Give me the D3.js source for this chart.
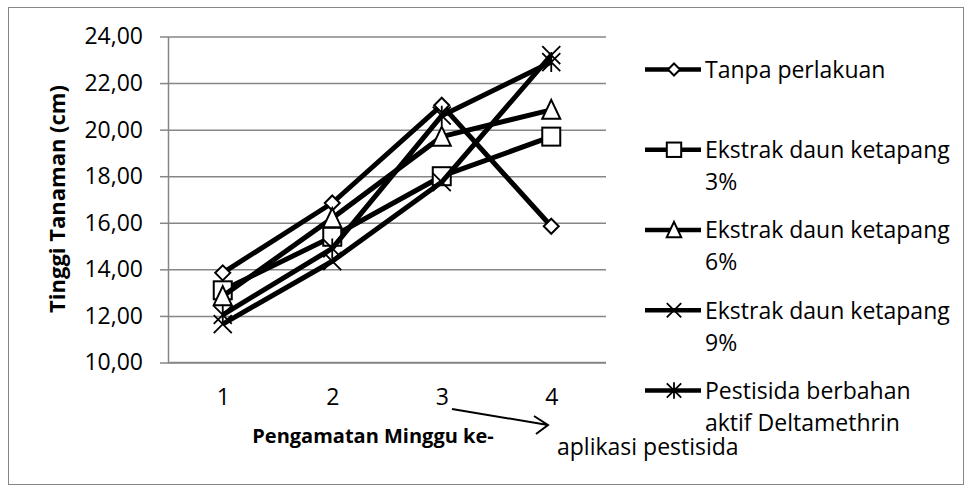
<!DOCTYPE html>
<html>
<head>
<meta charset="utf-8">
<script src="https://cdn.jsdelivr.net/npm/d3@7"></script>
<style>
  html, body { margin: 0; padding: 0; background: #fff; }
  svg { display: block; }
  text { font-family: "Open Sans", sans-serif; fill: #000; }
</style>
</head>
<body>
<svg id="chart" width="971" height="486"></svg>
<script>
// ---- data ----
const categories = ["1", "2", "3", "4"];
const yTicks = [10, 12, 14, 16, 18, 20, 22, 24];
const seriesNames = [
  ["Tanpa perlakuan"],
  ["Ekstrak daun ketapang", "3%"],
  ["Ekstrak daun ketapang", "6%"],
  ["Ekstrak daun ketapang", "9%"],
  ["Pestisida berbahan", "aktif Deltamethrin"]
];
const tanpaPerlakuan = [13.85, 16.85, 21.05, 15.85];
const ekstrak3 = [13.1, 15.4, 18.0, 19.7];
const ekstrak6 = [12.85, 16.2, 19.7, 20.85];
const ekstrak9 = [11.65, 14.35, 17.75, 23.2];
const pestisida = [12.05, 14.9, 20.6, 22.9];
const markerTypes = ["diamond", "square", "triangle", "x", "star"];
const xTitle = "Pengamatan Minggu ke-";
const yTitle = "Tinggi Tanaman (cm)";
const note = "aplikasi pestisida";

const allSeries = [tanpaPerlakuan, ekstrak3, ekstrak6, ekstrak9, pestisida];

// ---- layout ----
const svg = d3.select("#chart");
const gray = "#868686";
const plot = { left: 168, right: 606, top: 36.5, bottom: 362.5 };

svg.append("rect").attr("x", 0).attr("y", 0).attr("width", 971).attr("height", 486).attr("fill", "#fff");
svg.append("rect").attr("x", 8.5).attr("y", 7.5).attr("width", 955).attr("height", 477)
  .attr("fill", "none").attr("stroke", gray).attr("stroke-width", 1);

const x = d3.scalePoint().domain(categories).range([plot.left, plot.right]).padding(0.5);
const y = d3.scaleLinear().domain([10, 24]).range([plot.bottom, plot.top]);

// gridlines
svg.append("g")
  .attr("transform", `translate(${plot.left},0)`)
  .call(d3.axisLeft(y).tickValues(yTicks).tickSize(-(plot.right - plot.left)).tickFormat(""))
  .call(g => g.select(".domain").remove())
  .call(g => g.selectAll("line").attr("stroke", gray).attr("stroke-width", 1.5));

// y axis
svg.append("g")
  .attr("transform", `translate(${plot.left},0)`)
  .call(d3.axisLeft(y).tickValues(yTicks).tickSize(8).tickSizeOuter(0).tickPadding(17)
    .tickFormat(d => d.toFixed(2).replace(".", ",")))
  .call(g => g.select(".domain").attr("stroke", gray).attr("stroke-width", 1.5))
  .call(g => g.selectAll("line").attr("stroke", gray).attr("stroke-width", 1.5))
  .call(g => g.selectAll("text").attr("font-size", 23).attr("font-family", "Open Sans"));

// x axis
svg.append("g")
  .attr("transform", `translate(0,${plot.bottom})`)
  .call(d3.axisBottom(x).tickSize(0).tickSizeOuter(0).tickPadding(26))
  .call(g => g.select(".domain").attr("stroke", gray).attr("stroke-width", 1.5)
    .attr("d", `M${plot.left},0H${plot.right}`))
  .call(g => g.selectAll("text").attr("font-size", 23).attr("font-family", "Open Sans"));

// marker drawing
function drawMarker(g, type, cx, cy, k) {
  const s = 9 * k;
  const m = g.append("g").attr("transform", `translate(${cx},${cy})`);
  let el;
  if (type === "diamond") {
    const d = 7.5 * k;
    el = m.append("path").attr("d", `M0,${-d}L${d},0L0,${d}L${-d},0Z`);
  } else if (type === "square") {
    el = m.append("rect").attr("x", -s).attr("y", -s).attr("width", 2 * s).attr("height", 2 * s);
  } else if (type === "triangle") {
    el = m.append("path").attr("d", `M0,${-s - 1}L${s},${s}L${-s},${s}Z`);
  } else if (type === "x") {
    el = m.append("path").attr("d", `M${-s},${-s}L${s},${s}M${s},${-s}L${-s},${s}`);
  } else {
    el = m.append("path").attr("d", `M${-s},${-s}L${s},${s}M${s},${-s}L${-s},${s}M0,${-s - 1}V${s + 1}`);
  }
  el.attr("stroke", "#000");
  if (type === "x" || type === "star") {
    el.attr("fill", "none").attr("stroke-width", 1.8);
  } else {
    el.attr("fill", "#fff").attr("stroke-width", 2);
  }
}

const line = d3.line().x((d, i) => x(categories[i])).y(d => y(d));

allSeries.forEach((vals, si) => {
  const g = svg.append("g");
  g.append("path").datum(vals).attr("d", line)
    .attr("fill", "none").attr("stroke", "#000").attr("stroke-width", 5).attr("stroke-linejoin", "round");
  vals.forEach((v, i) => drawMarker(g, markerTypes[si], x(categories[i]), y(v), 1));
});

// axis titles
svg.append("text").attr("transform", "translate(65,199) rotate(-90)")
  .attr("text-anchor", "middle").attr("font-size", 22).attr("font-weight", "bold").text(yTitle);
svg.append("text").attr("x", 373).attr("y", 443)
  .attr("text-anchor", "middle").attr("font-size", 20).attr("font-weight", "bold").text(xTitle);

// legend
const lg = svg.append("g");
seriesNames.forEach((lines, i) => {
  const cy = 69.5 + i * 80.25;
  lg.append("line").attr("x1", 645).attr("x2", 701).attr("y1", cy).attr("y2", cy)
    .attr("stroke", "#000").attr("stroke-width", 4.5);
  drawMarker(lg, markerTypes[i], 674, cy, 0.8);
  lines.forEach((t, j) => {
    lg.append("text").attr("x", 705).attr("y", cy + 8.3 + j * 32)
      .attr("font-size", 23).text(t);
  });
});

// arrow + note
const ax1 = 452, ay1 = 409, ax2 = 548, ay2 = 425;
svg.append("path").attr("d", `M${ax1},${ay1}L${ax2},${ay2}M${ax2 - 14},${ay2 - 9}L${ax2},${ay2}L${ax2 - 12},${ay2 + 9}`)
  .attr("fill", "none").attr("stroke", "#000").attr("stroke-width", 2);
svg.append("text").attr("x", 557).attr("y", 455).attr("font-size", 23).text(note);
</script>
</body>
</html>
